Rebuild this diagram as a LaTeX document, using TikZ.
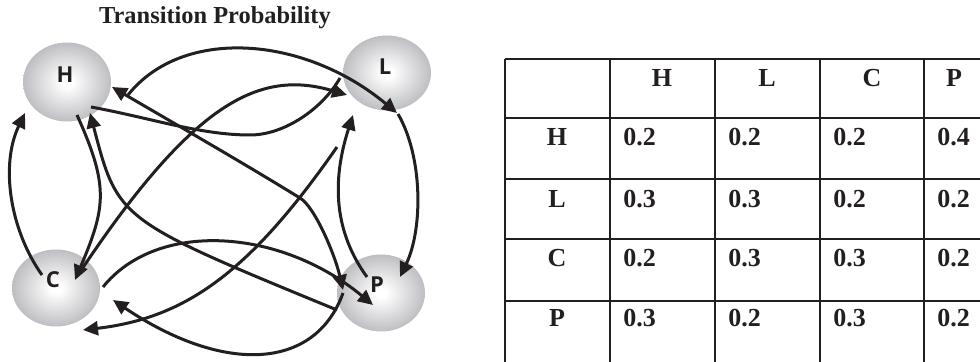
\documentclass[tikz,border=0pt]{standalone}
\usepackage{fontspec}
\setmainfont{Liberation Serif}
\newfontfamily\statefont{Open Sans}
\usetikzlibrary{arrows.meta,positioning,shapes.geometric}
\definecolor{inkline}{RGB}{35,31,32}
\definecolor{stategray}{RGB}{160,161,166}
\pgfdeclareradialshading{stateshade}{\pgfpoint{0bp}{0bp}}{color(0bp)=(white); color(3bp)=(white); color(35bp)=(stategray); color(50bp)=(stategray)}

\begin{document}
\begin{tikzpicture}[
    x=0.5pt, y=-0.5pt,
    state/.style={ellipse, minimum width=44pt, minimum height=38.5pt, inner sep=0pt, shade, shading=stateshade},
    statelbl/.style={font=\statefont\bfseries\fontsize{11}{13}\selectfont, text=inkline, inner sep=0pt},
    arr/.style={-{Triangle[length=7.5pt, width=7pt]}, line width=1.5pt, draw=inkline},
    arrboth/.style={{Triangle[length=7.5pt, width=7pt]}-{Triangle[length=7.5pt, width=7pt]}, line width=1.5pt, draw=inkline},
    link/.style={line width=1.5pt, draw=inkline},
    cellline/.style={line width=1pt, draw=inkline},
    celltext/.style={font=\bfseries\fontsize{13}{15}\selectfont, text=inkline, inner sep=0pt},
    titletext/.style={font=\bfseries\fontsize{12.2}{14}\selectfont, text=inkline, inner sep=0pt}
]
\useasboundingbox (0,0) rectangle (980,362);
\clip (0,0) rectangle (980,362);

\node[titletext, anchor=base] (title) at (215,24) {Transition Probability};

\node[state, minimum height=39.5pt] (H) at (67,82) {};
\node[state, minimum height=37.5pt] (L) at (387,73) {};
\node[state] (C) at (56,288) {};
\node[state] (P) at (381,293) {};

\draw[arr] ([shift={(-14,-13)}]C.center) .. controls (10,230) and (0,165) .. ([shift={(-42,31)}]H.center);
\draw[arr] ([shift={(10,33)}]H.center) .. controls (109,186) and (106,207) .. ([shift={(19,-8)}]C.center);
\draw[arr] ([shift={(-44,17)}]P.center) .. controls (118,220) and (118,220) .. ([shift={(23,31)}]H.center);
\draw[arr] ([shift={(24,-16)}]C.center) .. controls (194,101) and (260,69) .. ([shift={(-40,22)}]L.center);
\draw[link] ([shift={(24,25)}]H.center) .. controls (151,118) and (200,135) .. (250,135)
    .. controls (285,135) and (323,108) .. ([shift={(-47,5)}]L.center);
\draw[arr] ([shift={(61,13)}]H.center) .. controls (182,27) and (303,35) .. ([shift={(10,40)}]L.center);
\draw[arr] ([shift={(11,41)}]L.center) .. controls (423,157) and (423,229) .. ([shift={(19,-16)}]P.center);
\draw[arr] ([shift={(-14,-16)}]P.center) .. controls (335,233) and (331,183) .. ([shift={(-34,42)}]L.center);
\draw[arrboth] ([shift={(45,5)}]H.center) .. controls (170,121) and (240,161) .. (300,198)
    .. controls (315,207) and (335,255) .. ([shift={(-38,-3)}]P.center);
\draw[arr] ([shift={(-50,74)}]L.center) .. controls (250,272) and (186,318) .. ([shift={(27,42)}]C.center);
\draw[arr] ([shift={(47,-1)}]C.center) .. controls (157,220) and (280,228) .. ([shift={(-8,12)}]P.center);
\draw[arr] ([shift={(-38,0)}]P.center) .. controls (315,371) and (223,374) .. ([shift={(57,12)}]C.center);

\node[statelbl] (Hlbl) at ([shift={(-2,-7)}]H.center) {H};
\node[statelbl] (Llbl) at ([shift={(-2,-6)}]L.center) {L};
\node[statelbl] (Clbl) at ([shift={(-3,-8)}]C.center) {C};
\node[statelbl] (Plbl) at ([shift={(-4,-8)}]P.center) {P};

\foreach \xv in {505,610,715,820,924,985}
  \draw[cellline] (\xv,59) -- (\xv,370);
\foreach \yv in {59,118,179,239,301}
  \draw[cellline] (505,\yv) -- (990,\yv);
\foreach \lbl/\xc in {H/662,L/767,C/872,P/954}
  \node[celltext, anchor=base] (col\lbl) at (\xc,87) {\lbl};
\foreach \lbl/\yb/\pa/\pb/\pc/\pd in {H/146/0.2/0.2/0.2/0.4, L/208/0.3/0.3/0.2/0.2, C/267/0.2/0.3/0.3/0.2, P/327/0.3/0.2/0.3/0.2}{
  \node[celltext, anchor=base] (row\lbl) at (557,\yb) {\lbl};
  \node[celltext, anchor=base west] (p\lbl a) at (623,\yb) {\pa};
  \node[celltext, anchor=base west] (p\lbl b) at (728,\yb) {\pb};
  \node[celltext, anchor=base west] (p\lbl c) at (833,\yb) {\pc};
  \node[celltext, anchor=base west] (p\lbl d) at (937,\yb) {\pd};
}
\end{tikzpicture}
\end{document}
